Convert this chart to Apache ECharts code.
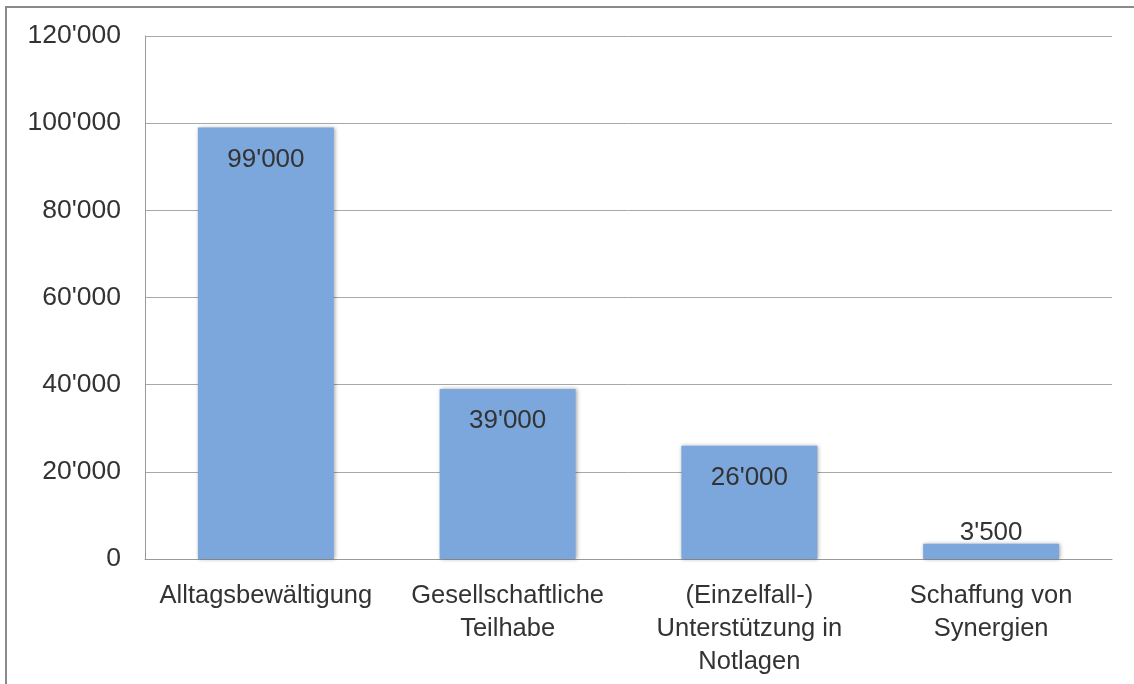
<!DOCTYPE html>
<html>
<head>
<meta charset="utf-8">
<script src="https://cdn.jsdelivr.net/npm/echarts@6/dist/echarts.min.js"></script>
<style>
html,body{margin:0;padding:0;width:1134px;height:684px;overflow:hidden;background:#fff;}
#frame{position:absolute;left:5px;top:6px;width:1200px;height:800px;border:2px solid #8a8a8a;box-sizing:border-box;}
#chart{position:absolute;left:0;top:0;width:1134px;height:684px;}
</style>
</head>
<body>
<div id="frame"></div>
<div id="chart"></div>
<script>
const categories = ["Alltagsbewältigung", "Gesellschaftliche\nTeilhabe", "(Einzelfall-)\nUnterstützung in\nNotlagen", "Schaffung von\nSynergien"];
const values = [99000, 39000, 26000, 3500];
const labelPositions = ["insideTop", "insideTop", "insideTop", "top"];
const yMin = 0, yMax = 120000, yInterval = 20000;

function fmt(v) {
  return String(v).replace(/\B(?=(\d{3})+(?!\d))/g, "'");
}

const chart = echarts.init(document.getElementById('chart'), null, {renderer: 'canvas'});
chart.setOption({
  animation: false,
  backgroundColor: 'transparent',
  textStyle: {fontFamily: 'Liberation Sans, Arial, sans-serif'},
  grid: {left: 145, right: 22, top: 36, bottom: 125, containLabel: false},
  xAxis: {
    type: 'category',
    data: categories,
    axisLine: {show: true, lineStyle: {color: '#9a9a9a', width: 1}},
    axisTick: {show: false},
    axisLabel: {color: '#333333', fontSize: 25.5, lineHeight: 33, margin: 20, interval: 0,
      fontFamily: 'Liberation Sans, Arial, sans-serif'},
    splitLine: {show: false}
  },
  yAxis: {
    type: 'value',
    min: yMin, max: yMax, interval: yInterval,
    axisLine: {show: true, lineStyle: {color: '#9a9a9a', width: 1}},
    axisTick: {show: false},
    axisLabel: {color: '#333333', fontSize: 26.5, margin: 24, formatter: fmt,
      padding: [7, 0, 0, 0],
      fontFamily: 'Liberation Sans, Arial, sans-serif'},
    splitLine: {show: true, lineStyle: {color: '#a8a8a8', width: 1}}
  },
  series: [{
    type: 'bar',
    barWidth: 136,
    data: values.map((v, i) => ({
      value: v,
      label: {position: labelPositions[i], distance: labelPositions[i] === 'top' ? -2 : 19}
    })),
    itemStyle: {color: '#7ba7dd', shadowBlur: 4, shadowColor: 'rgba(0,0,0,0.35)', shadowOffsetX: 1, shadowOffsetY: 0},
    label: {show: true, color: '#333333', fontSize: 26, formatter: p => fmt(p.value),
      fontFamily: 'Liberation Sans, Arial, sans-serif'}
  }]
});
</script>
</body>
</html>
